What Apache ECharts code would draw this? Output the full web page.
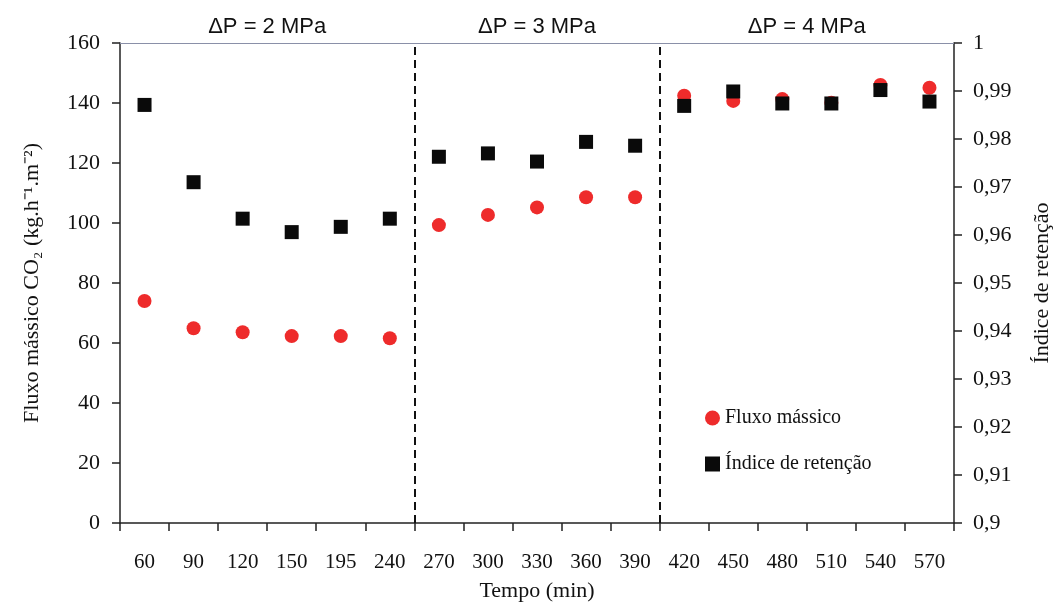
<!DOCTYPE html>
<html>
<head>
<meta charset="utf-8">
<script src="https://cdn.jsdelivr.net/npm/echarts@6/dist/echarts.min.js"></script>
<style>html,body{margin:0;padding:0;background:#fff}#c{width:1059px;height:605px}</style>
</head>
<body>
<div id="c"></div>
<script>
var categories = ['60','90','120','150','195','240','270','300','330','360','390','420','450','480','510','540','570'];
var fluxo = [74, 64.9, 63.6, 62.3, 62.3, 61.6, 99.3, 102.7, 105.2, 108.6, 108.6, 142.4, 140.7, 141.3, 140.1, 146, 145.1];
var indice = [0.9871, 0.9710, 0.9634, 0.9606, 0.9617, 0.9634, 0.9763, 0.9770, 0.9753, 0.9794, 0.9786, 0.9869, 0.9899, 0.9874, 0.9874, 0.9902, 0.9878];
var phaseNames = ['ΔP = 2 MPa', 'ΔP = 3 MPa', 'ΔP = 4 MPa'];
var phaseRanges = [[0, 6], [6, 11], [11, 17]];
var phaseBounds = [6, 11];

var serif = '"Liberation Serif","Times New Roman",serif';
var chart = echarts.init(document.getElementById('c'));
chart.setOption({
  animation: false,
  backgroundColor: '#fff',
  grid: {left: 120, right: 105, top: 43, bottom: 82, containLabel: false, outerBoundsMode: 'none'},
  legend: {
    orient: 'vertical', left: 700, top: 403, itemGap: 26, itemWidth: 15, itemHeight: 15,
    data: ['Fluxo mássico', 'Índice de retenção'],
    textStyle: {fontFamily: serif, fontSize: 20, color: '#111'}
  },
  xAxis: [{
    type: 'category', data: categories, boundaryGap: true,
    name: 'Tempo (min)', nameLocation: 'middle', nameGap: 57,
    nameTextStyle: {fontFamily: serif, fontSize: 22, color: '#111'},
    axisLine: {lineStyle: {color: '#222', width: 1.5}},
    axisTick: {show: true, inside: false, length: 8, lineStyle: {color: '#222', width: 1.5}},
    axisLabel: {interval: 0, margin: 29, fontFamily: serif, fontSize: 21, color: '#111'},
    splitLine: {show: false}
  }, {
    type: 'value', min: 0, max: 17, position: 'top',
    axisLine: {show: true, onZero: false, lineStyle: {color: '#8a90a8', width: 1}},
    axisTick: {show: false}, axisLabel: {show: false}, splitLine: {show: false}
  }],
  yAxis: [{
    type: 'value', min: 0, max: 160, interval: 20,
    name: 'Fluxo mássico CO₂ (kg.h⁻¹.m⁻²)', nameLocation: 'middle', nameGap: 77, nameRotate: 90,
    nameTextStyle: {fontFamily: serif, fontSize: 22, color: '#111'},
    axisLine: {show: true, lineStyle: {color: '#222', width: 1.5}},
    axisTick: {show: true, length: 8, lineStyle: {color: '#222', width: 1.5}},
    axisLabel: {margin: 20, fontFamily: serif, fontSize: 22, color: '#111'},
    splitLine: {show: false}
  }, {
    type: 'value', min: 0.9, max: 1, interval: 0.01, position: 'right',
    name: 'Índice de retenção', nameLocation: 'middle', nameGap: 77, nameRotate: 90,
    nameTextStyle: {fontFamily: serif, fontSize: 22, color: '#111'},
    axisLine: {show: true, lineStyle: {color: '#222', width: 1.5}},
    axisTick: {show: true, length: 8, lineStyle: {color: '#222', width: 1.5}},
    axisLabel: {margin: 19, fontFamily: serif, fontSize: 22, color: '#111',
      formatter: function (v) { return String(Math.round(v * 100) / 100).replace('.', ','); }},
    splitLine: {show: false}
  }],
  series: [{
    name: 'Fluxo mássico', type: 'scatter', xAxisIndex: 0, yAxisIndex: 0,
    symbol: 'circle', symbolSize: 14, itemStyle: {color: '#ee2b2b', opacity: 1},
    data: fluxo, z: 3
  }, {
    name: 'Índice de retenção', type: 'scatter', xAxisIndex: 0, yAxisIndex: 1,
    symbol: 'rect', symbolSize: 14, itemStyle: {color: '#0a0a0a', opacity: 1},
    data: indice, z: 4
  }, {
    name: 'phases', type: 'scatter', xAxisIndex: 1, yAxisIndex: 0, data: [], silent: true,
    markLine: {
      silent: true, symbol: 'none',
      lineStyle: {color: '#111', type: [8, 5], width: 2},
      label: {show: false},
      data: phaseBounds.map(function (b) { return {xAxis: b}; })
    },
    markArea: {
      silent: true,
      itemStyle: {color: 'rgba(0,0,0,0)'},
      label: {show: true, position: 'top', distance: 5, fontFamily: '"Liberation Sans",Arial,sans-serif', fontSize: 22, color: '#111'},
      data: phaseRanges.map(function (r, i) { return [{name: phaseNames[i], xAxis: r[0]}, {xAxis: r[1]}]; })
    }
  }]
});
</script>
</body>
</html>
